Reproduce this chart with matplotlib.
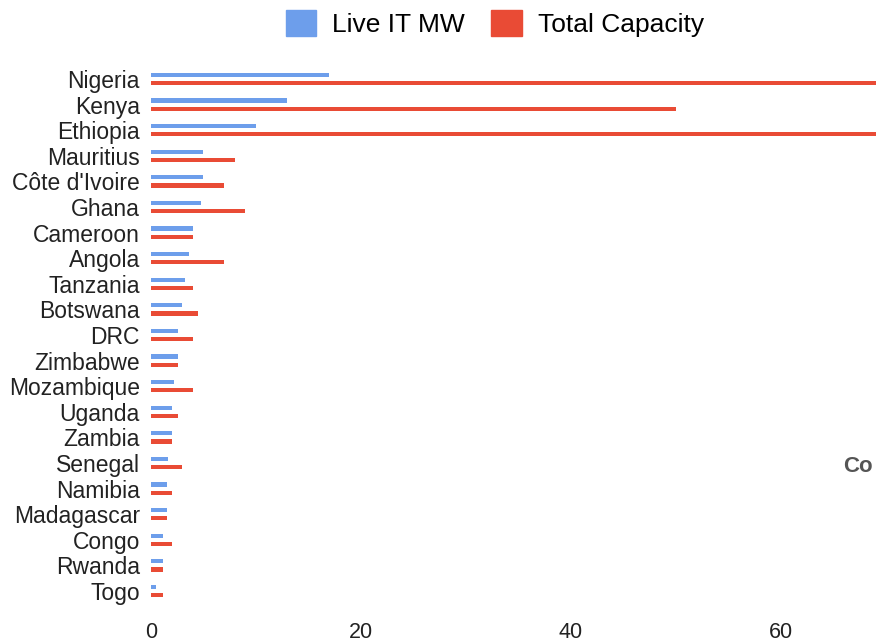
import matplotlib.pyplot as plt
import numpy as np
from matplotlib.patches import Patch

countries = ["Nigeria", "Kenya", "Ethiopia", "Mauritius", "Côte d'Ivoire", "Ghana",
             "Cameroon", "Angola", "Tanzania", "Botswana", "DRC", "Zimbabwe",
             "Mozambique", "Uganda", "Zambia", "Senegal", "Namibia", "Madagascar",
             "Congo", "Rwanda", "Togo"]
live_it_mw = [17, 13, 10, 5, 5, 4.8, 4, 3.6, 3.2, 3, 2.6, 2.6, 2.2, 2, 2, 1.65,
              1.5, 1.5, 1.1, 1.1, 0.5]
total_capacity = [100, 50, 100, 8, 7, 9, 4, 7, 4, 4.5, 4, 2.6, 4, 2.6, 2, 3,
                  2, 1.5, 2, 1.1, 1.1]

blue = "#6d9eeb"
red = "#e94b35"
sans = ["Liberation Sans", "DejaVu Sans"]

fig = plt.figure(figsize=(8.76, 6.43), dpi=100)
ax = fig.add_axes([151 / 876, 1 - 603.8 / 643, 1 - 151 / 876, (603.8 - 66.2) / 643])

y = np.arange(len(countries))
h = 0.16
ax.barh(y - 0.16, live_it_mw, height=h, color=blue)
ax.barh(y + 0.16, total_capacity, height=h, color=red)

ax.set_xlim(0, 69.05)
ax.set_ylim(len(countries) - 0.5, -0.5)
ax.set_yticks(y)
ax.set_yticklabels(countries, family=sans, fontsize=16.5, color="#222222")
ax.set_xticks([0, 20, 40, 60])
ax.set_xticklabels(["0", "20", "40", "60"], family=sans, fontsize=15.5, color="#222222")
ax.tick_params(axis="y", length=0, pad=8)
ax.tick_params(axis="x", length=0, pad=13)
for s in ax.spines.values():
    s.set_visible(False)

handles = [Patch(color=blue, label="Live IT MW"), Patch(color=red, label="Total Capacity")]
fig.legend(handles=handles, loc="upper center", bbox_to_anchor=(0.565, 1.022), ncol=2,
           frameon=False, prop={"family": sans, "size": 19}, handlelength=1.15,
           handleheight=1.15, handletextpad=0.6, columnspacing=1.0)

fig.text(843 / 876, 1 - 467 / 643, "Co", fontsize=16, fontweight="bold",
         color="#555555", va="center", ha="left", family=sans)

fig.savefig("out.png", dpi=100)
